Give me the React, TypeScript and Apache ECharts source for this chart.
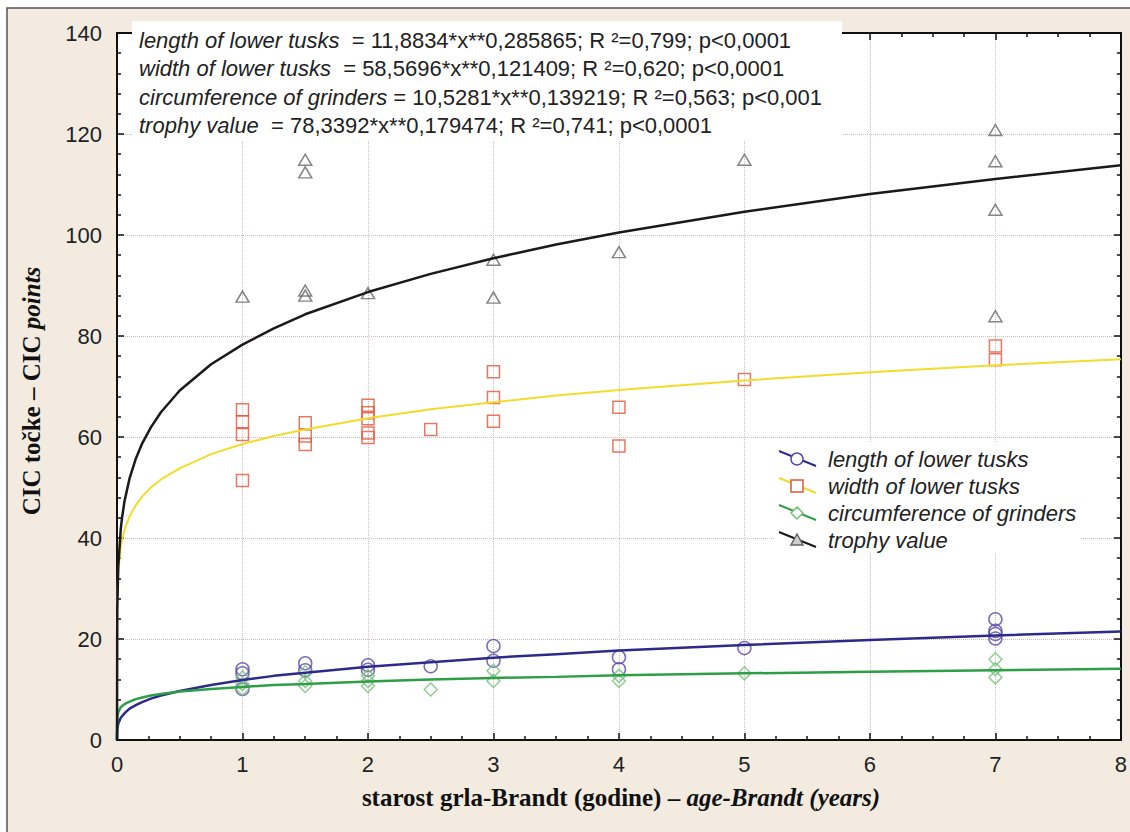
import React, { useEffect, useRef } from "react";
import * as echarts from "echarts";

// ---- data ----
const xTickLabels = ["0", "1", "2", "3", "4", "5", "6", "7", "8"];
const yTickLabels = ["0", "20", "40", "60", "80", "100", "120", "140"];

const seriesNames = [
  "length of lower tusks",
  "width of lower tusks",
  "circumference of grinders",
  "trophy value",
];

const equationTexts = [
  "  = 11,8834*x**0,285865; R ²=0,799; p<0,0001",
  "  = 58,5696*x**0,121409; R ²=0,620; p<0,0001",
  " = 10,5281*x**0,139219; R ²=0,563; p<0,001",
  "  = 78,3392*x**0,179474; R ²=0,741; p<0,0001",
];

// fitted curves
const curveAges = [0, 0.002, 0.01, 0.03, 0.04, 0.06, 0.1, 0.15, 0.2, 0.27, 0.35, 0.5, 0.75, 1, 1.25, 1.5, 2, 2.5, 3, 3.5, 4, 5, 6, 7, 8];
const lengthCurve = [0, 2.0, 3.2, 4.4, 4.7, 5.3, 6.2, 6.9, 7.5, 8.2, 8.8, 9.7, 10.9, 11.9, 12.7, 13.3, 14.5, 15.4, 16.3, 17.0, 17.7, 18.8, 19.8, 20.7, 21.5];
const widthCurve = [0, 27.5, 33.5, 38.3, 39.6, 41.6, 44.3, 46.5, 48.2, 50.0, 51.6, 53.8, 56.6, 58.6, 60.2, 61.5, 63.7, 65.5, 66.9, 68.2, 69.3, 71.2, 72.8, 74.2, 75.4];
const grindersCurve = [0, 4.4, 5.5, 6.5, 6.7, 7.1, 7.6, 8.1, 8.4, 8.8, 9.1, 9.6, 10.1, 10.5, 10.9, 11.1, 11.6, 12.0, 12.3, 12.5, 12.8, 13.2, 13.5, 13.8, 14.1];
const trophyCurve = [0, 25.7, 34.3, 41.8, 44.0, 47.3, 51.8, 55.7, 58.7, 61.9, 64.9, 69.2, 74.4, 78.3, 81.5, 84.3, 88.7, 92.3, 95.4, 98.1, 100.5, 104.6, 108.1, 111.1, 113.8];

// observed points
const lengthAges = [1, 1, 1, 1.5, 1.5, 2, 2, 2.5, 3, 3, 4, 4, 5, 7, 7, 7, 7];
const lengthValues = [14.0, 13.2, 10.1, 15.2, 13.8, 14.8, 13.9, 14.6, 18.6, 15.7, 16.4, 14.0, 18.2, 23.9, 21.6, 21.0, 20.1];

const widthAges = [1, 1, 1, 1, 1.5, 1.5, 1.5, 2, 2, 2, 2, 2, 2.5, 3, 3, 3, 4, 4, 5, 7, 7];
const widthValues = [65.4, 63.0, 60.5, 51.4, 62.8, 60.2, 58.5, 66.3, 64.8, 63.6, 60.8, 59.9, 61.5, 72.9, 67.8, 63.1, 65.9, 58.2, 71.4, 78.0, 75.3];

const grindersAges = [1, 1, 1, 1.5, 1.5, 1.5, 2, 2, 2, 2.5, 3, 3, 4, 4, 5, 7, 7, 7];
const grindersValues = [12.4, 11.1, 10.1, 13.4, 11.7, 10.7, 12.7, 11.7, 10.7, 10.0, 13.7, 11.7, 12.7, 11.7, 13.2, 16.0, 14.0, 12.4];

const trophyAges = [1, 1.5, 1.5, 1.5, 1.5, 2, 3, 3, 4, 5, 7, 7, 7, 7];
const trophyValues = [87.8, 114.9, 112.4, 89.0, 88.0, 88.5, 95.1, 87.6, 96.6, 114.9, 120.8, 114.6, 105.0, 83.9];

const lineColors = ["#2d2a8c", "#f2dc2c", "#2e9e47", "#1a1a1a"];
const markerColors = ["#5a4aa8", "#e2553b", "#74c07a", "#666666"];

const pairs = (xs: number[], ys: number[]) => xs.map((x, i) => [x, ys[i]]);

export default function App() {
  const ref = useRef<HTMLDivElement>(null);

  useEffect(() => {
    if (!ref.current) return;
    const chart = echarts.init(ref.current, null, { renderer: "svg" });
    const sans = "'Liberation Sans', Arial, sans-serif";
    const serif = "'Liberation Serif', 'Times New Roman', serif";

    const axisCommon = {
      axisLine: { show: true, onZero: false, lineStyle: { color: "#111", width: 2 } },
      axisTick: { show: true, inside: true, length: 7, lineStyle: { color: "#111", width: 1.5 } },
    };

    const eqRich = {
      i: { fontFamily: sans, fontStyle: "italic", fontSize: 22, fill: "#222", color: "#222" },
      n: { fontFamily: sans, fontSize: 22, fill: "#222", color: "#222" },
    };

    const legendY0 = 459;
    const legendGap = 27;
    const mx = 797;
    const legendEls: any[] = [];
    seriesNames.forEach((name, i) => {
      const y = legendY0 + i * legendGap;
      legendEls.push({
        type: "line",
        shape: { x1: 779, y1: y - 8, x2: 816, y2: y + 7 },
        style: { stroke: lineColors[i], lineWidth: 2 },
        z: 101,
      });
      const ms = { fill: i === 3 ? "#cfcfcf" : "#ffffff", stroke: markerColors[i], lineWidth: 1.5 };
      if (i === 0) legendEls.push({ type: "circle", shape: { cx: mx, cy: y, r: 6 }, style: ms, z: 102 });
      if (i === 1) legendEls.push({ type: "rect", shape: { x: mx - 6, y: y - 6, width: 12, height: 12 }, style: ms, z: 102 });
      if (i === 2)
        legendEls.push({
          type: "polygon",
          shape: { points: [[mx, y - 6], [mx + 6, y], [mx, y + 6], [mx - 6, y]] },
          style: ms,
          z: 102,
        });
      if (i === 3)
        legendEls.push({
          type: "polygon",
          shape: { points: [[mx, y - 6], [mx + 6, y + 5], [mx - 6, y + 5]] },
          style: ms,
          z: 102,
        });
      legendEls.push({
        type: "text",
        x: 828,
        y,
        style: {
          text: name,
          font: `italic 22px ${sans}`,
          fill: "#222",
          verticalAlign: "middle",
          align: "left",
        },
        z: 102,
      });
    });

    const eqEls = seriesNames.map((name, i) => ({
      type: "text",
      x: 139,
      y: 40 + i * 28.5,
      style: {
        text: `{i|${name}}{n|${equationTexts[i]}}`,
        rich: eqRich,
        verticalAlign: "middle",
        align: "left",
      },
      z: 102,
    }));

    const option: any = {
      animation: false,
      backgroundColor: "#f3ebe0",
      grid: {
        left: 117,
        right: 4,
        top: 33,
        bottom: 92,
        show: true,
        backgroundColor: "#ffffff",
        borderWidth: 0,
      },
      xAxis: [
        {
          type: "value",
          min: 0,
          max: 8,
          interval: 1,
          position: "bottom",
          ...axisCommon,
          minorTick: { show: true, splitNumber: 4, length: 4, lineStyle: { color: "#111", width: 1.5 } },
          axisLabel: {
            show: true,
            margin: 13,
            fontSize: 22,
            fontFamily: sans,
            color: "#222",
            formatter: (v: number) => xTickLabels[Math.round(v)] ?? "",
          },
          splitLine: { show: true, lineStyle: { color: "#cdbdbd", type: "dotted", width: 1 } },
        },
        {
          type: "value",
          min: 0,
          max: 8,
          interval: 1,
          position: "top",
          ...axisCommon,
          minorTick: { show: true, splitNumber: 4, length: 4, lineStyle: { color: "#111", width: 1.5 } },
          axisLabel: { show: false },
          splitLine: { show: false },
        },
      ],
      yAxis: [
        {
          type: "value",
          min: 0,
          max: 140,
          interval: 20,
          position: "left",
          ...axisCommon,
          minorTick: { show: true, splitNumber: 5, length: 4, lineStyle: { color: "#111", width: 1.5 } },
          axisLabel: {
            show: true,
            margin: 15,
            fontSize: 22,
            fontFamily: sans,
            color: "#222",
            formatter: (v: number) => yTickLabels[Math.round(v / 20)] ?? "",
          },
          splitLine: { show: true, lineStyle: { color: "#cdbdbd", type: "dotted", width: 1 } },
        },
        {
          type: "value",
          min: 0,
          max: 140,
          interval: 20,
          position: "right",
          ...axisCommon,
          minorTick: { show: true, splitNumber: 5, length: 4, lineStyle: { color: "#111", width: 1.5 } },
          axisLabel: { show: false },
          splitLine: { show: false },
        },
      ],
      series: [
        {
          name: seriesNames[0] + " points",
          type: "scatter",
          symbol: "circle",
          symbolSize: 13,
          data: pairs(lengthAges, lengthValues),
          itemStyle: { color: "rgba(255,255,255,0)", borderColor: markerColors[0], borderWidth: 1.5 },
          z: 2,
        },
        {
          name: seriesNames[1] + " points",
          type: "scatter",
          symbol: "rect",
          symbolSize: 12,
          data: pairs(widthAges, widthValues),
          itemStyle: { color: "rgba(255,255,255,0)", borderColor: markerColors[1], borderWidth: 1.5 },
          z: 2,
        },
        {
          name: seriesNames[2] + " points",
          type: "scatter",
          symbol: "diamond",
          symbolSize: [13, 13],
          data: pairs(grindersAges, grindersValues),
          itemStyle: { color: "rgba(255,255,255,0)", borderColor: markerColors[2], borderWidth: 1.5 },
          z: 2,
        },
        {
          name: seriesNames[3] + " points",
          type: "scatter",
          symbol: "triangle",
          symbolSize: [13, 11],
          data: pairs(trophyAges, trophyValues),
          itemStyle: { color: "rgba(255,255,255,0)", borderColor: markerColors[3], borderWidth: 1.5 },
          z: 2,
        },
        ...[lengthCurve, widthCurve, grindersCurve, trophyCurve].map((c, i) => ({
          name: seriesNames[i],
          type: "line",
          showSymbol: false,
          symbol: "none",
          smooth: false,
          data: pairs(curveAges, c),
          lineStyle: { color: lineColors[i], width: i === 1 ? 2 : 2.5 },
          z: 3,
        })),
      ],
      graphic: [
        // white margin outside the figure frame
        { type: "rect", shape: { x: 0, y: 0, width: 1130, height: 8 }, style: { fill: "#ffffff" }, z: 100 },
        { type: "rect", shape: { x: 0, y: 0, width: 7, height: 832 }, style: { fill: "#ffffff" }, z: 100 },
        {
          type: "polyline",
          shape: { points: [[7, 840], [7, 8], [1140, 8]] },
          style: { stroke: "#555", lineWidth: 1.5, fill: null },
          z: 100,
        },
        // equation box
        { type: "rect", shape: { x: 132, y: 21, width: 710, height: 119 }, style: { fill: "#ffffff" }, z: 100 },
        ...eqEls,
        // legend box
        { type: "rect", shape: { x: 774, y: 443, width: 306, height: 110 }, style: { fill: "#ffffff" }, z: 100 },
        ...legendEls,
        // axis titles
        {
          type: "text",
          x: 621,
          y: 797,
          style: {
            text: "{b|starost grla-Brandt (godine) – }{bi|age-Brandt (years)}",
            rich: {
              b: { fontFamily: serif, fontWeight: "bold", fontSize: 25, fill: "#111", color: "#111" },
              bi: { fontFamily: serif, fontWeight: "bold", fontStyle: "italic", fontSize: 25, fill: "#111", color: "#111" },
            },
            align: "center",
            verticalAlign: "middle",
          },
          z: 102,
        },
        {
          type: "text",
          x: 31,
          y: 391,
          rotation: Math.PI / 2,
          style: {
            text: "{b|CIC točke – CIC }{bi|points}",
            rich: {
              b: { fontFamily: serif, fontWeight: "bold", fontSize: 25, fill: "#111", color: "#111" },
              bi: { fontFamily: serif, fontWeight: "bold", fontStyle: "italic", fontSize: 25, fill: "#111", color: "#111" },
            },
            align: "center",
            verticalAlign: "middle",
          },
          z: 102,
        },
      ],
    };

    chart.setOption(option);
    return () => chart.dispose();
  }, []);

  return (
    <div
      ref={ref}
      style={{ position: "absolute", left: 0, top: 0, width: 1130, height: 832 }}
    />
  );
}
